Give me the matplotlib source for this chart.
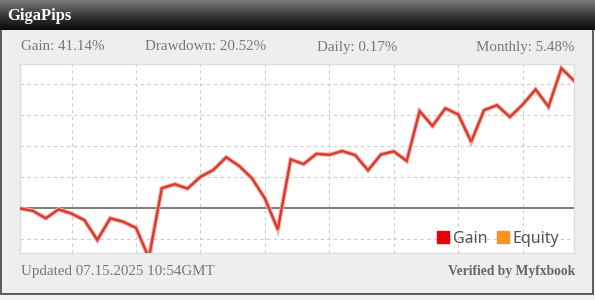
import matplotlib
matplotlib.use("Agg")
import matplotlib.pyplot as plt
import numpy as np
from matplotlib.patches import Rectangle
from matplotlib.lines import Line2D
from matplotlib.colors import LinearSegmentedColormap

title = "GigaPips"
stats = ["Gain: 41.14%", "Drawdown: 20.52%", "Daily: 0.17%", "Monthly: 5.48%"]
footer_left = "Updated 07.15.2025 10:54GMT"
footer_right = "Verified by Myfxbook"
legend_labels = ["Gain", "Equity"]
legend_colors = ["#e8000b", "#f7931e"]

gain = [0.0, -0.8, -3.2, -0.3, -1.7, -3.8, -10.2, -3.2, -4.3, -6.3,
        -16.0, 6.5, 7.8, 6.4, 10.2, 12.4, 16.5, 13.7, 9.7, 3.2,
        -6.8, 15.8, 14.3, 17.6, 17.3, 18.5, 17.2, 12.3, 17.4, 18.4,
        15.3, 31.4, 26.6, 32.3, 30.3, 21.5, 31.7, 33.3, 29.5, 33.5,
        38.4, 32.8, 45.2, 41.14]
x = np.arange(len(gain))
vgrid = [4, 9, 14, 19, 24, 29, 34, 39]
hgrid = [-10, 10, 20, 30, 40]
ylim = (-14.4, 46.6)

W, H = 595, 300
fig = plt.figure(figsize=(W / 100, H / 100), dpi=100)

# background canvas in pixel coords
bg = fig.add_axes([0, 0, 1, 1])
bg.set_xlim(0, W)
bg.set_ylim(H, 0)
bg.axis("off")
bg.add_patch(Rectangle((0, 0), W, H, facecolor="#f4f4f4", edgecolor="none"))
bg.add_patch(Rectangle((1, 28), W - 3, 266, facecolor="#eeeeee", edgecolor="#5a5a5a", lw=1.4))
grad = np.linspace(0, 1, 64).reshape(-1, 1)
cmap = LinearSegmentedColormap.from_list("hdr", ["#7a7a7a", "#3a3a3a", "#0a0a0a"])
bg.imshow(grad, extent=(0, W, 30, 0), aspect="auto", cmap=cmap, zorder=2)
bg.text(7, 16, title, color="white", fontsize=12, fontweight="bold",
        family="Liberation Serif", va="center", ha="left", zorder=3)

stat_x = [21, 145, 317, 575]
stat_ha = ["left", "left", "left", "right"]
for s, sx, ha in zip(stats, stat_x, stat_ha):
    bg.text(sx, 47, s, color="#777777", fontsize=10.8, family="Liberation Serif",
            va="center", ha=ha)
bg.text(21, 272, footer_left, color="#777777", fontsize=10.8, family="Liberation Serif",
        va="center", ha="left")
bg.text(575, 272, footer_right, color="#666666", fontsize=9.8, fontweight="bold",
        family="Liberation Serif", va="center", ha="right")

# plot area
left, right, top, bottom = 20, 574.3, 64, 253
ax = fig.add_axes([left / W, 1 - bottom / H, (right - left) / W, (bottom - top) / H])
ax.set_facecolor("white")
ax.set_xlim(0, len(gain) - 1)
ax.set_ylim(*ylim)
for v in vgrid:
    ax.axvline(v, color="#cccccc", lw=0.8, ls=(0, (3, 3)), zorder=1)
for h in hgrid:
    ax.axhline(h, color="#cccccc", lw=0.8, ls=(0, (3, 3)), zorder=1)
ax.axhline(0, color="#707070", lw=1.3, zorder=2)
ax.plot(x, gain, color="#f2b0a8", lw=3.2, zorder=3, solid_joinstyle="miter")
ax.plot(x, gain, color="#d83a2c", lw=1.7, zorder=4, solid_joinstyle="miter")
ax.set_xticks([])
ax.set_yticks([])
for sp in ax.spines.values():
    sp.set_color("#dddddd")
    sp.set_linewidth(1.0)

handles = [Line2D([], [], marker="s", ls="none", markersize=8.5, color=c) for c in legend_colors]
leg = ax.legend(handles, legend_labels, loc="lower right", ncol=2, frameon=False,
                handlelength=0.7, handletextpad=0.3, columnspacing=0.6,
                borderaxespad=0.0, bbox_to_anchor=(0.985, 0.0),
                prop={"family": "Noto Sans", "size": 11.5})
for t in leg.get_texts():
    t.set_color("#555555")

fig.savefig("out.png", dpi=100)
